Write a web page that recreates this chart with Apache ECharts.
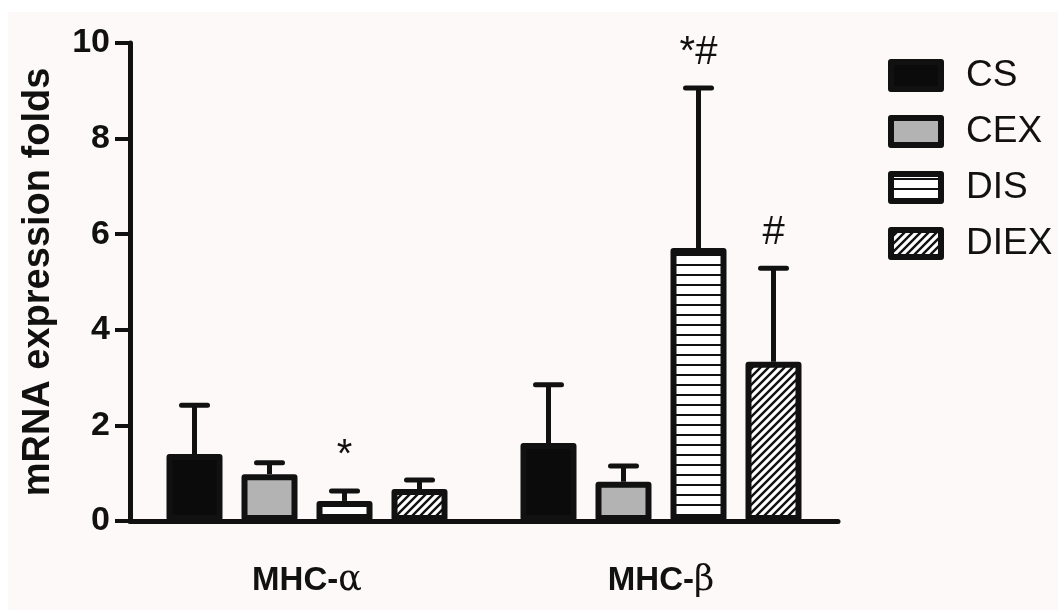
<!DOCTYPE html>
<html>
<head>
<meta charset="utf-8">
<script src="https://cdn.jsdelivr.net/npm/echarts@6/dist/echarts.min.js"></script>
<style>
  html, body { margin: 0; padding: 0; background: #fff; }
  #chart { width: 1058px; height: 610px; }
</style>
</head>
<body>
<div id="chart"></div>
<script>
// data (mean + upper SD)
const categories = ['MHC-α', 'MHC-β'];
const groups = ['CS', 'CEX', 'DIS', 'DIEX'];
const csMean = [1.40, 1.63];
const csSd = [1.02, 1.22];
const cexMean = [0.98, 0.82];
const cexSd = [0.24, 0.33];
const disMean = [0.42, 5.71];
const disSd = [0.21, 3.35];
const diexMean = [0.67, 3.33];
const diexSd = [0.19, 1.96];
const csMarks = ['', ''];
const cexMarks = ['', ''];
const disMarks = ['*', '*#'];
const diexMarks = ['', '#'];
const yTicks = [0, 2, 4, 6, 8, 10];

const FONT = 'Arial, "Liberation Sans", Helvetica, sans-serif';
const BAR_W = 56;
const GAP = 19 / 56;

function makePattern (type) {
  const c = document.createElement('canvas');
  const ctx = c.getContext('2d');
  if (type === 'hline') {
    c.width = 10; c.height = 10;
    ctx.fillStyle = '#fff';
    ctx.fillRect(0, 0, 10, 10);
    ctx.fillStyle = '#111';
    ctx.fillRect(0, 4, 10, 2);
  } else {
    c.width = 8; c.height = 8;
    ctx.fillStyle = '#fff';
    ctx.fillRect(0, 0, 8, 8);
    ctx.strokeStyle = '#111';
    ctx.lineWidth = 2.4;
    ctx.beginPath();
    ctx.moveTo(-2, 10); ctx.lineTo(10, -2);
    ctx.moveTo(-6, 6); ctx.lineTo(6, -6);
    ctx.moveTo(2, 14); ctx.lineTo(14, 2);
    ctx.stroke();
  }
  return { image: c, repeat: 'repeat' };
}

const fills = ['#0b0b0b', '#b3b3b3', makePattern('hline'), makePattern('diag')];
const means = [csMean, cexMean, disMean, diexMean];
const sds = [csSd, cexSd, disSd, diexSd];
const marks = [csMarks, cexMarks, disMarks, diexMarks];

const barSeries = groups.map((g, i) => ({
  name: g,
  type: 'bar',
  barWidth: BAR_W,
  barGap: (GAP * 100) + '%',
  data: means[i],
  itemStyle: {
    color: fills[i],
    borderColor: '#111',
    borderWidth: 6,
    borderJoin: 'round'
  },
  z: 3
}));

const errSeries = groups.map((g, i) => ({
  name: g + ' SD',
  type: 'custom',
  z: 2,
  data: means[i].map((m, k) => [k, m, m + sds[i][k]]),
  renderItem: (params, api) => {
    const ci = api.value(0);
    const base = api.coord([ci, api.value(1)]);
    const top = api.coord([ci, api.value(2)]);
    const x = base[0] + (i - 1.5) * BAR_W * (1 + GAP);
    const children = [
      { type: 'line', shape: { x1: x, y1: base[1], x2: x, y2: top[1] },
        style: { stroke: '#111', lineWidth: 5 } },
      { type: 'line', shape: { x1: x - 13, y1: top[1], x2: x + 13, y2: top[1] },
        style: { stroke: '#111', lineWidth: 5, lineCap: 'round' } }
    ];
    const mk = marks[i][params.dataIndex];
    if (mk) {
      children.push({
        type: 'text', x: x, y: top[1] - 15,
        style: { text: mk, fill: '#111', font: '40px ' + FONT, align: 'center', verticalAlign: 'bottom' }
      });
    }
    return { type: 'group', children: children };
  }
}));

const chart = echarts.init(document.getElementById('chart'));
chart.setOption({
  backgroundColor: '#fff',
  animation: false,
  graphic: [{
    type: 'rect', z: -10, silent: true,
    shape: { x: 8, y: 12, width: 1050, height: 598 },
    style: { fill: '#fdf9f8' }
  }],
  grid: { left: 130, right: 220, top: 43, bottom: 89 },
  legend: {
    data: groups,
    orient: 'vertical',
    left: 883,
    top: 52,
    icon: 'rect',
    itemWidth: 50,
    itemHeight: 27,
    itemGap: 19,
    itemStyle: { borderColor: '#111', borderWidth: 6, borderJoin: 'round' },
    textStyle: { fontFamily: FONT, fontSize: 37, color: '#111', padding: [0, 0, 0, 20] }
  },
  xAxis: {
    type: 'category',
    data: categories,
    axisLine: { lineStyle: { color: '#111', width: 5, cap: 'round' } },
    axisTick: { alignWithLabel: true, length: 17, lineStyle: { color: '#111', width: 4 } },
    axisLabel: {
      margin: 42,
      formatter: (v) => '{b|' + v.slice(0, 4) + '}{g|' + v.slice(4) + '}',
      rich: {
        b: { fontFamily: FONT, fontSize: 33, fontWeight: 'bold', color: '#111' },
        g: { fontFamily: '"DejaVu Serif", "Liberation Serif", serif', fontSize: 35, color: '#111' }
      }
    }
  },
  yAxis: {
    type: 'value',
    min: yTicks[0],
    max: yTicks[yTicks.length - 1],
    interval: yTicks[1] - yTicks[0],
    name: 'mRNA expression folds',
    nameLocation: 'middle',
    nameGap: 72,
    nameTextStyle: { fontFamily: FONT, fontSize: 38, fontWeight: 'bold', color: '#111' },
    axisLine: { show: true, lineStyle: { color: '#111', width: 5 } },
    axisTick: { show: true, length: 15, lineStyle: { color: '#111', width: 4 } },
    axisLabel: { margin: 20, fontFamily: FONT, fontSize: 34, fontWeight: 'bold', color: '#111' },
    splitLine: { show: false }
  },
  series: barSeries.concat(errSeries)
});
</script>
</body>
</html>
